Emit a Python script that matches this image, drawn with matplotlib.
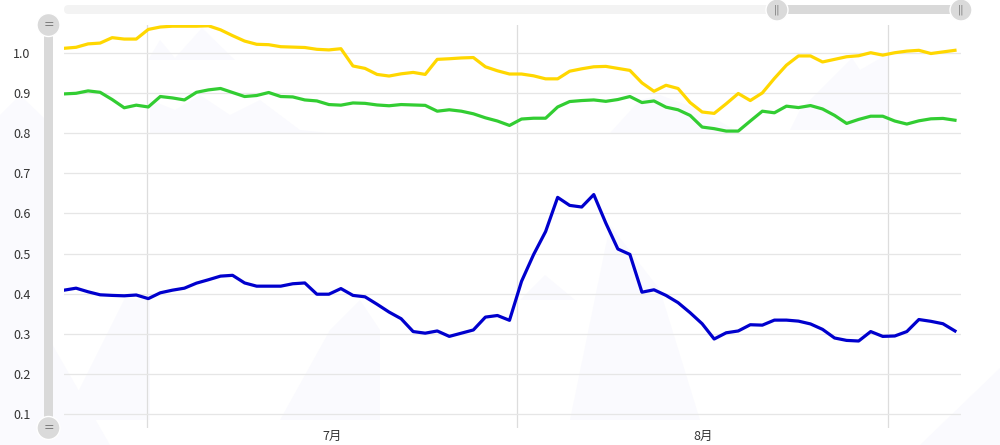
"""Three daily ratio series, Jul-Aug, with echarts-style zoom sliders"""

import numpy as np
import matplotlib
matplotlib.use("Agg")
import matplotlib.pyplot as plt
from matplotlib.patches import Circle, FancyBboxPatch, Polygon

plt.rcParams['font.family'] = ['Noto Sans CJK SC', 'DejaVu Sans']

# DATA (one value per day):
yellow = [1.011, 1.0135, 1.022, 1.024, 1.0375, 1.034, 1.034, 1.058, 1.064, 1.066,
          1.066, 1.066, 1.067, 1.057, 1.0425, 1.029, 1.021, 1.020, 1.015, 1.014,
          1.013, 1.0085, 1.007, 1.010, 0.967,
          0.961, 0.946, 0.942, 0.9475, 0.951, 0.946, 0.9835, 0.985, 0.987, 0.988,
          0.965, 0.955, 0.947, 0.947, 0.9425, 0.935, 0.935, 0.954, 0.960, 0.965,
          0.966, 0.961, 0.956, 0.925, 0.904,
          0.919, 0.911, 0.876, 0.8525, 0.849, 0.873, 0.8985, 0.881, 0.900, 0.936,
          0.969, 0.992, 0.992, 0.977, 0.9835, 0.990, 0.9925, 1.000, 0.994, 1.000,
          1.004, 1.006, 0.998, 1.002, 1.006]

green = [0.8975, 0.899, 0.905, 0.9015, 0.8835, 0.863, 0.8695, 0.865, 0.891, 0.8875,
         0.8825, 0.9015, 0.9075, 0.911, 0.901, 0.891, 0.8935, 0.901, 0.891, 0.890,
         0.8825, 0.880, 0.871, 0.8695, 0.875,
         0.874, 0.870, 0.868, 0.871, 0.870, 0.869, 0.8545, 0.858, 0.8545, 0.848,
         0.838, 0.830, 0.819, 0.835, 0.837, 0.837, 0.865, 0.8785, 0.881, 0.8825,
         0.879, 0.8835, 0.891, 0.876, 0.880,
         0.8645, 0.858, 0.844, 0.815, 0.811, 0.805, 0.805, 0.830, 0.8545, 0.8505,
         0.867, 0.8635, 0.8685, 0.860, 0.844, 0.824, 0.834, 0.842, 0.842, 0.830,
         0.8225, 0.8305, 0.8355, 0.8365, 0.832]

blue = [0.409, 0.414, 0.405, 0.3975, 0.396, 0.395, 0.397, 0.388, 0.4025, 0.409,
        0.414, 0.4265, 0.435, 0.444, 0.446, 0.427, 0.419, 0.419, 0.419, 0.425,
        0.427, 0.399, 0.399, 0.413, 0.396,
        0.3925, 0.374, 0.3545, 0.338, 0.306, 0.302, 0.3075, 0.294, 0.302, 0.310,
        0.342, 0.346, 0.334, 0.431, 0.4975, 0.555, 0.640, 0.620, 0.616, 0.647,
        0.576, 0.5115, 0.498, 0.404, 0.410,
        0.396, 0.378, 0.353, 0.3255, 0.2875, 0.303, 0.3075, 0.323, 0.322, 0.3345,
        0.3345, 0.332, 0.325, 0.3115, 0.290, 0.284, 0.2825, 0.306, 0.294, 0.295,
        0.306, 0.336, 0.3315, 0.3255, 0.3075]

month_labels = ['7月', '8月']
y_ticks = [0.1, 0.2, 0.3, 0.4, 0.5, 0.6, 0.7, 0.8, 0.9, 1.0]

# month boundaries in day-index units (the zoom window does not start on a day)
month_edges = [6.87, 37.65, 68.46]

W, H = 1000, 445
fig = plt.figure(figsize=(W / 100, H / 100), dpi=100)


def px(x, y):
    """figure pixel (from top-left) -> inches for dpi_scale_trans"""
    return x / 100, (H - y) / 100


# faint mountain watermark in the background
mountains = [
    [(0, 445), (0, 115), (20, 95), (44, 118), (44, 330), (110, 445)],
    [(920, 445), (1000, 368), (1000, 445)],
    [(148, 60), (160, 40), (175, 58), (202, 28), (235, 60), (148, 60)],
    [(150, 133), (150, 100), (175, 110), (200, 95), (230, 115), (260, 100),
     (300, 130), (330, 133)],
    [(64, 420), (125, 298), (150, 300), (150, 420)],
    [(280, 420), (330, 330), (360, 300), (380, 330), (380, 420)],
    [(520, 300), (545, 275), (575, 300)],
    [(570, 420), (610, 225), (660, 290), (700, 420)],
    [(790, 130), (800, 110), (852, 58), (860, 70), (886, 55), (889, 60), (889, 130)],
    [(610, 133), (640, 100), (660, 95), (700, 110), (740, 133)],
]
for m in mountains:
    pts = [px(*p) for p in m]
    fig.add_artist(Polygon(pts, closed=True, transform=fig.dpi_scale_trans,
                           facecolor='#fafafe', edgecolor='none', zorder=0))

ax = fig.add_axes([64 / W, 1 - 428 / H, (961 - 64) / W, (428 - 25) / H])
ax.patch.set_alpha(0)

x = np.arange(len(blue))
ax.plot(x, yellow, color='#ffd700', lw=2.3, solid_joinstyle='round', zorder=3)
ax.plot(x, green, color='#32cd32', lw=2.3, solid_joinstyle='round', zorder=3)
ax.plot(x, blue, color='#0000cd', lw=2.3, solid_joinstyle='round', zorder=3)

ax.set_xlim(0, 74.5)
ax.set_ylim(0.066, 1.069)

ax.set_yticks(y_ticks)
ax.set_yticklabels([f"{v:.1f}" for v in y_ticks])
ax.yaxis.grid(True, color='#e6e6e6', lw=0.9)

mid = [(a + b) / 2 for a, b in zip(month_edges[:-1], month_edges[1:])]
ax.set_xticks(mid)
ax.set_xticklabels(month_labels)
ax.set_xticks(month_edges, minor=True)
ax.xaxis.grid(True, which='minor', color='#dddddd', lw=0.9)

ax.tick_params(axis='both', length=0, labelsize=9, colors='#333333')
ax.tick_params(axis='y', pad=24)
ax.tick_params(axis='x', pad=1.5)
ax.tick_params(axis='x', which='minor', length=0)
for s in ax.spines.values():
    s.set_visible(False)
ax.set_axisbelow(True)

# top horizontal slider
tr = fig.dpi_scale_trans
x0, y0 = px(64, 14)
fig.add_artist(FancyBboxPatch((x0, y0), (961 - 64) / 100, 0.09,
                              boxstyle="round,pad=0,rounding_size=0.045",
                              transform=tr, facecolor='#f3f3f3', edgecolor='none'))
x0, y0 = px(777, 14)
fig.add_artist(FancyBboxPatch((x0, y0), (961 - 777) / 100, 0.09,
                              boxstyle="round,pad=0,rounding_size=0.0",
                              transform=tr, facecolor='#d9d9d9', edgecolor='none'))
for hx in (777, 961):
    fig.add_artist(Circle(px(hx, 10), 0.11, transform=tr,
                          facecolor='#dadada', edgecolor='white', lw=1, zorder=5))
    fig.text(hx / W, 1 - 10 / H, '||', ha='center', va='center', fontsize=7,
             color='#7a7a7a', family='DejaVu Sans', zorder=6)

# left vertical slider
x0, y0 = px(44, 428)
fig.add_artist(FancyBboxPatch((x0, y0), 0.09, (428 - 25) / 100,
                              boxstyle="round,pad=0,rounding_size=0.0",
                              transform=tr, facecolor='#d9d9d9', edgecolor='none'))
for hy in (25, 428):
    fig.add_artist(Circle(px(48.5, hy), 0.115, transform=tr,
                          facecolor='#dadada', edgecolor='white', lw=1, zorder=5))
    fig.text(48.5 / W, 1 - (hy - 0.5) / H, '=', ha='center', va='center', fontsize=9,
             color='#7a7a7a', family='DejaVu Sans', zorder=6)

fig.savefig('out.png', dpi=100)
